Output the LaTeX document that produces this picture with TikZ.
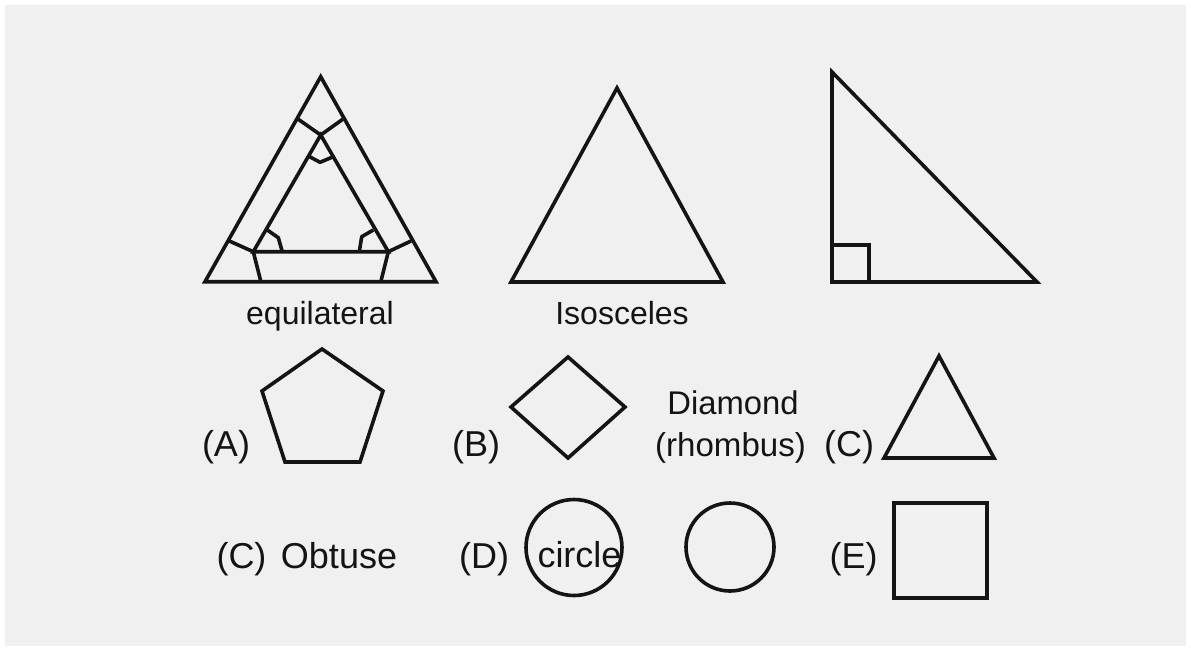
\documentclass[tikz,border=0pt]{standalone}
\usepackage{fontspec}
\setmainfont{Liberation Sans}
\definecolor{figBack}{HTML}{F0F0F0}
\definecolor{figLine}{HTML}{141414}
\tikzset{
  figline/.style={draw=figLine, line width=2.7pt, line join=miter},
  figmark/.style={draw=figLine, line width=2.7pt, line join=round},
  figlabel/.style={anchor=base, text=figLine, inner sep=0pt, font=\fontsize{24}{28}\selectfont},
  figlarge/.style={figlabel, font=\fontsize{27}{32}\selectfont},
}
\begin{document}
\begin{tikzpicture}[x=0.75pt, y=-0.75pt]
  \useasboundingbox (0,0) rectangle (1191,651);
  \fill[white] (0,0) rectangle (1191,651);
  \fill[figBack] (5,5) rectangle (1186,646);
  % equilateral
  \draw[figline] (320.7,76.7) -- (436,281.7) -- (205,281.7) -- cycle;
  \draw[figline] (320.7,135) -- (388.3,251.7) -- (253.3,251.7) -- cycle;
  \draw[figmark] (298.3,119.3) -- (320.7,135) -- (342.7,119.3);
  \draw[figmark] (229.3,241) -- (253.3,251.7) -- (260.7,281);
  \draw[figmark] (411,241) -- (388.3,251.7) -- (381,281);
  \draw[figmark] (308.3,156) -- (320,162.3) -- (333.3,156.7);
  \draw[figmark] (267.3,230) -- (278.3,237.7) -- (282.3,251.7);
  \draw[figmark] (373.3,230) -- (361.7,236.7) -- (359.3,251.7);
  % isosceles and right angle
  \draw[figline] (617,88) -- (723,282) -- (511,282) -- cycle;
  \draw[figline] (832,72) -- (1037,282) -- (832,282) -- cycle;
  \draw[figline] (832,245) -- (869,245) -- (869,282);
  % second row
  \draw[figline] (322,349) -- (383,391) -- (360,462) -- (285,462) -- (262,391) -- cycle;
  \draw[figline] (568,357) -- (625,407) -- (568,458) -- (511,407) -- cycle;
  \draw[figline] (939,356) -- (994,458) -- (884,458) -- cycle;
  % third row
  \draw[figline] (574,547.5) circle[radius=48];
  \draw[figline] (730,547) circle[radius=44];
  \draw[figline] (894,503) rectangle (987,598);
  % labels
  \node[figlabel] (equi) at (320,324) {equilateral};
  \node[figlabel] (iso) at (622,324) {Isosceles};
  \node[figlarge] (a) at (226,456) {(A)};
  \node[figlarge] (b) at (476,456) {(B)};
  \node[figlabel, font=\fontsize{24.6}{28}\selectfont] (dia) at (733,414.5) {Diamond};
  \node[figlabel, font=\fontsize{24.8}{28}\selectfont] (rho) at (730.5,456) {(rhombus)};
  \node[figlarge] (c) at (849,456) {(C)};
  \node[figlarge] (c2) at (241.5,568) {(C)};
  \node[figlarge] (obt) at (339,568) {Obtuse};
  \node[figlarge] (d) at (484,568) {(D)};
  \node[figlarge] (cir) at (579.5,567) {circle};
  \node[figlarge] (e) at (853.5,568) {(E)};
\end{tikzpicture}
\end{document}
